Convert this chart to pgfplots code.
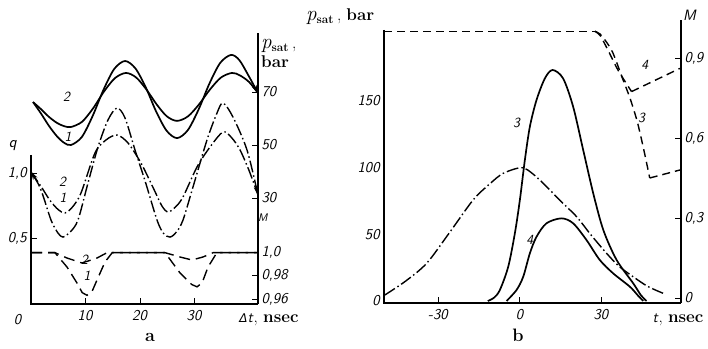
\documentclass[border=0pt]{standalone}
\usepackage{fontspec}
\newfontfamily\dejavu{DejaVu Sans}
\usepackage{pgfplots}
\pgfplotsset{compat=1.18}
\usetikzlibrary{arrows.meta}
\newcommand\tl[1]{\textsf{\textit{#1}}}
\newcommand\tf{\fontsize{15}{15}\selectfont}
\newcommand\lf{\fontsize{14}{14}\selectfont}
\newcommand\bigf{\fontsize{17}{17}\selectfont}
\newcommand\pf{\fontsize{21}{21}\selectfont}
\tikzset{axl/.style={black, line width=1.3pt}}
\pgfplotsset{
  base/.style={scale only axis, clip=false, axis line style={draw=none},
    tick align=inside, major tick length=6pt,
    tick style={black, line width=0.9pt},
    ticklabel style={font=\tf},
    xtick=\empty, ytick=\empty},
  solidc/.style={black, line width=1.7pt, smooth},
  dashdotc/.style={black, line width=1.4pt, smooth, dash pattern=on 12pt off 3pt on 1.5pt off 3pt},
  dashc/.style={black, line width=1.4pt, dash pattern=on 11pt off 6pt},
}
\begin{document}
\begin{tikzpicture}
\useasboundingbox (0,0) rectangle (708pt,348pt);
% ---------- panel a : q ----------
\begin{axis}[base, at={(31pt,44pt)}, anchor=south west, width=227pt, height=149pt,
  xmin=0, xmax=41.65, ymin=0, ymax=1.1374,
  xtick={10,20,30}, xticklabels={{\tl{10}},{\tl{20}},{\tl{30}}}, xtick pos=left,
  xticklabel style={yshift=-3pt},
  ytick={0.5,1}, yticklabels={{\tl{0,5}},{\tl{1,0}}}, ytick pos=left]
\draw[axl] (rel axis cs:0,1) -- (rel axis cs:0,0) -- (rel axis cs:1,0);
\addplot[dashdotc, {Stealth[length=8pt,width=5pt]}-{Stealth[length=8pt,width=5pt]}] coordinates {
(0,1.008) (1.83,0.87) (3.67,0.641) (4.95,0.542) (5.87,0.511) (7.2,0.55) (8.62,0.641)
(10.46,0.924) (12.29,1.198) (14.13,1.405) (15.78,1.496) (17.25,1.42) (19.08,1.176)
(21.0,0.93) (23.12,0.641) (24.3,0.54) (25.5,0.511) (26.7,0.55) (27.89,0.641)
(29.72,0.893) (32.29,1.252) (34.13,1.458) (35.23,1.534) (37.06,1.427) (39.63,1.176) (41.65,0.832)};
\addplot[dashdotc] coordinates {
(0,1.008) (1.8,0.90) (3.5,0.79) (5.0,0.72) (6.24,0.695) (7.6,0.74) (9.17,0.847)
(11.74,1.153) (13.76,1.252) (15.78,1.29) (17.8,1.229) (20.18,1.076) (22.5,0.88)
(24.0,0.75) (25.14,0.702) (26.5,0.74) (27.89,0.817) (30.46,1.046) (32.84,1.198)
(35.23,1.313) (36.8,1.27) (38.35,1.176) (40.0,1.02) (41.65,0.832)};
\end{axis}
% ---------- panel a : p_sat ----------
\begin{axis}[base, at={(31pt,44pt)}, anchor=south west, width=227pt, height=271pt,
  xmin=0, xmax=41.65, ymin=-10.0, ymax=92.27,
  ytick={30,50,70}, yticklabels={{\tl{30}},{\tl{50}},{\tl{70}}},
  ytick pos=right, yticklabel pos=right]
\draw[axl] (rel axis cs:1,0) -- (rel axis cs:1,1);
\addplot[solidc, -{Stealth[length=8pt,width=5pt]}] coordinates {
(0.37,66.2) (1.8,62.0) (3.3,57.2) (4.8,53.2) (6.1,50.8) (7.34,50.0) (9.32,53.0)
(11.30,60.9) (13.29,70.8) (15.27,78.7) (17.25,81.7) (19.16,78.9) (21.07,71.7)
(22.97,62.6) (24.88,55.4) (26.79,52.6) (28.77,55.6) (30.75,63.4) (32.74,73.2)
(34.72,81.0) (36.70,84.0) (38.2,82.1) (39.8,76.6) (41.65,69.6)};
\addplot[solidc] coordinates {
(0.37,66.2) (1.8,63.6) (3.3,60.6) (4.8,58.3) (6.1,57.1) (7.34,56.8) (9.36,58.75)
(11.38,63.8) (13.40,70.2) (15.41,75.25) (17.43,77.2) (19.30,75.47) (21.17,70.96)
(23.05,65.34) (24.92,60.83) (26.79,59.1) (28.81,60.83) (30.83,65.34) (32.84,70.96)
(34.86,75.47) (36.88,77.2) (38.3,76.3) (40.0,73.8) (41.65,69.6)};
\end{axis}
% ---------- panel a : M ----------
\begin{axis}[base, at={(31pt,44pt)}, anchor=south west, width=227pt, height=56pt,
  xmin=0, xmax=41.65, ymin=0.95568, ymax=1.00406,
  ytick={0.96,0.98,1.0}, yticklabels={{\tl{0,96}},{\tl{0,98}},{\tl{1,0}}},
  ytick pos=right, yticklabel pos=right]
\addplot[dashc] coordinates {
(0,1.0) (4.4,1.0) (6.61,0.9876) (8.44,0.9738) (9.4,0.9655) (10.28,0.9632) (11.2,0.9665)
(12.11,0.9764) (13.58,0.992) (14.9,1.0) (24.6,1.0) (27.34,0.9825) (29.5,0.9725)
(30.46,0.9705) (31.4,0.974) (32.48,0.9876) (34.1,1.0) (41.65,1.0)};
\addplot[dashc] coordinates {
(0,1.0) (4.4,1.0) (6.61,0.9954) (9.36,0.9911) (12.11,0.9954) (13.95,1.0) (24.6,1.0)
(27.34,0.9963) (29.54,0.9937) (31.56,0.9963) (33.4,1.0) (41.65,1.0)};
\end{axis}
% ---------- panel b : p_sat ----------
\begin{axis}[base, at={(384pt,45pt)}, anchor=south west, width=297pt, height=273pt,
  xmin=-50, xmax=59.3, ymin=-1.5, ymax=203.3,
  xtick={-30,0,30}, xticklabels={{\tl{-30}},{\tl{0}},{\tl{30}}}, xtick pos=left,
  xticklabel style={yshift=-3pt},
  ytick={0,50,100,150}, yticklabels={{\tl{0}},{\tl{50}},{\tl{100}},{\tl{150}}},
  ytick pos=left, ytick style={draw=none}]
\draw[axl] (rel axis cs:0,1) -- (rel axis cs:0,0) -- (rel axis cs:1,0);
\addplot[solidc] coordinates {
(-11.8,0) (-9.5,2.5) (-7.36,8.25) (-4.29,25.7) (-1.84,50.8) (0,75.8) (1.84,105.8)
(3.68,130.8) (6.13,150.8) (9.2,167) (12.03,173.3) (15.9,167) (19.6,145.8) (23.3,113.3)
(27,80.8) (30.7,53.3) (35.6,30.8) (41.7,13.3) (44.5,4.5) (46.6,0)};
\addplot[solidc] coordinates {
(-4.9,0) (-1.23,8.25) (1.23,18.2) (3.68,35.8) (6.13,48.2) (9.8,58.3) (15.3,62)
(19.6,58.3) (24.5,45.8) (29.4,30.8) (34.3,20.8) (40.5,10.7) (43.5,4) (45.4,0)};
\addplot[black, line width=1.4pt, smooth, dash pattern=on 12pt off 3pt on 1.5pt off 3pt] coordinates {
(-49.7,4.5) (-42,15) (-34.3,28.3) (-26,51) (-17.2,75.8) (-11,88) (-6.1,95.8) (0.7,100)
(5,95) (9.8,85.8) (15,75) (20.9,63.2) (26,50) (31.9,35.8) (36.5,26) (41.7,18.2) (47,11) (52.7,5.8)};
\end{axis}
% ---------- panel b : M ----------
\begin{axis}[base, at={(384pt,45pt)}, anchor=south west, width=297pt, height=283pt,
  xmin=-50, xmax=59.3, ymin=-0.01875, ymax=1.0425,
  ytick={0,0.3,0.6,0.9}, yticklabels={{\tl{0}},{\tl{0,3}},{\tl{0,6}},{\tl{0,9}}},
  ytick pos=right, yticklabel pos=right]
\draw[axl] (rel axis cs:1,0) -- (rel axis cs:1,1);
\addplot[black, line width=1.4pt, dash pattern=on 8pt off 5pt] coordinates {(-50,1.0) (27.6,1.0)};
\addplot[black, line width=1.4pt, dash pattern=on 8pt off 5pt, smooth] coordinates {
(27.6,1.0) (29.5,0.99) (31.5,0.965) (34.2,0.92) (37.9,0.82) (40.5,0.75) (43.1,0.665) (45.3,0.57) (47.8,0.45)};
\addplot[black, line width=1.4pt, dash pattern=on 8pt off 5pt] coordinates {(47.8,0.45) (58.9,0.48)};
\addplot[black, line width=1.4pt, dash pattern=on 8pt off 5pt, smooth] coordinates {
(27.6,1.0) (29.5,0.985) (32.4,0.93) (36.1,0.855) (41.1,0.774)};
\addplot[black, line width=1.4pt, dash pattern=on 8pt off 5pt] coordinates {(41.1,0.774) (58.9,0.861)};
\end{axis}
% ---------- texts ----------
\node[font=\tf] at (18pt,28pt) {\tl{0}};
\node[font=\fontsize{16}{16}\selectfont] at (13pt,202pt) {\tl{q}};
\node[anchor=west, inner sep=0pt, font=\bigf] at (261pt,302pt)
  {{\pf\textit{p}}\textsubscript{\textbf{sat}}\,,};
\node[anchor=west, inner sep=0pt, font=\bigf] at (261pt,286pt) {\textbf{bar}};
\node[font=\fontsize{11}{11}\selectfont] at (263pt,130pt) {\tl{M}};
\node[font=\bigf] at (269pt,28pt) {{\dejavu\fontsize{12}{12}\selectfont\itshape Δ}{\tf\tl{t}}, \textbf{nsec}};
\node[font=\fontsize{18}{18}\selectfont] at (150pt,11pt) {\textbf{a}};
\node[font=\lf] at (67pt,251pt) {\tl{2}};
\node[font=\lf] at (68pt,211pt) {\tl{1}};
\node[font=\lf] at (63pt,166pt) {\tl{2}};
\node[font=\lf] at (63pt,150pt) {\tl{1}};
\node[font=\lf] at (85pt,88pt) {\tl{2}};
\node[font=\lf] at (87pt,72pt) {\tl{1}};
% panel b
\node[anchor=west, inner sep=0pt, font=\bigf] at (306pt,331pt)
  {{\pf\textit{p}}\textsubscript{\textbf{sat}}\,, \textbf{bar}};
\node[font=\tf] at (690pt,333pt) {\tl{M}};
\node[font=\bigf] at (678pt,28pt) {{\tf\tl{t}}, \textbf{nsec}};
\node[font=\fontsize{18}{18}\selectfont] at (518pt,13pt) {\textbf{b}};
\node[font=\lf] at (517pt,225pt) {\tl{3}};
\node[font=\lf] at (530pt,108pt) {\tl{4}};
\node[font=\lf] at (645pt,283pt) {\tl{4}};
\node[font=\lf] at (642pt,230pt) {\tl{3}};
\end{tikzpicture}
\end{document}
